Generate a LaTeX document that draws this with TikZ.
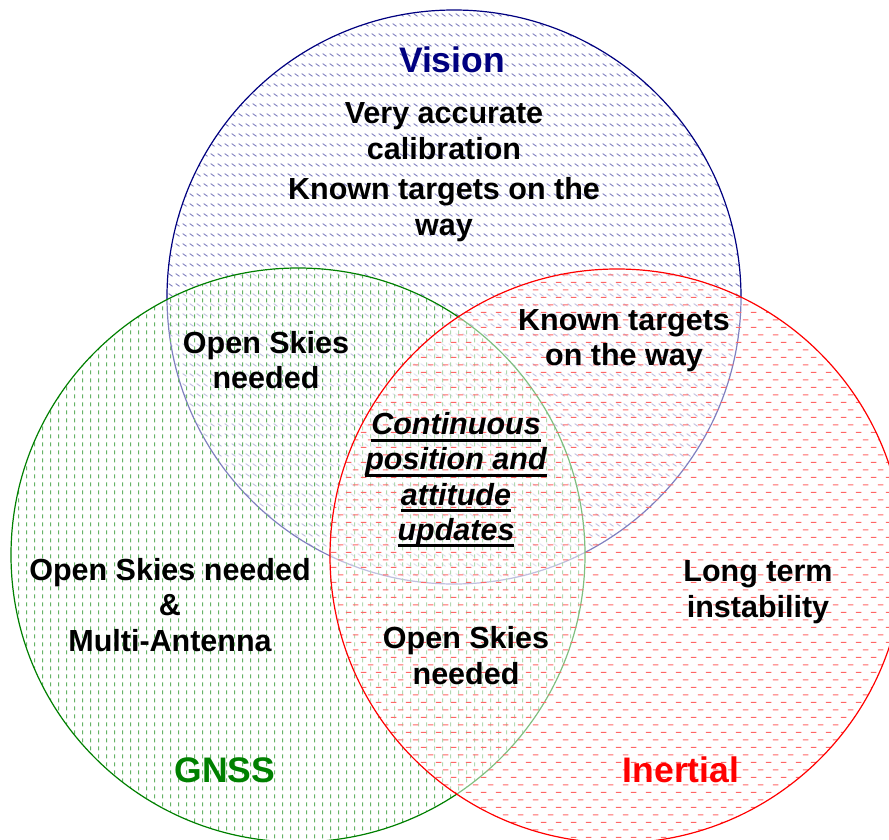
\documentclass[tikz,border=0pt]{standalone}
\usepackage{fontspec}
\setmainfont{Liberation Sans}
\usetikzlibrary{patterns}
\definecolor{visnavy}{RGB}{0,0,128}
\definecolor{gnssgreen}{RGB}{0,128,0}
\definecolor{inred}{RGB}{255,0,0}
\pgfdeclarepatternformonly{visionpat}{\pgfpointorigin}{\pgfpoint{7pt}{10pt}}{\pgfpoint{7pt}{10pt}}{%
  \pgfsetlinewidth{1pt}%
  \pgfpathmoveto{\pgfpoint{0.8pt}{7pt}}%
  \pgfpathlineto{\pgfpoint{5.2pt}{4pt}}%
  \pgfusepath{stroke}}
\pgfdeclarepatternformonly{gnsspat}{\pgfpointorigin}{\pgfpoint{7.7pt}{8pt}}{\pgfpoint{7.7pt}{8pt}}{%
  \pgfsetlinewidth{1.1pt}%
  \pgfpathmoveto{\pgfpoint{3.8pt}{1.8pt}}%
  \pgfpathlineto{\pgfpoint{3.8pt}{6.2pt}}%
  \pgfusepath{stroke}}
\pgfdeclarepatternformonly{inpat}{\pgfpointorigin}{\pgfpoint{15pt}{15.4pt}}{\pgfpoint{15pt}{15.4pt}}{%
  \pgfsetlinewidth{1.1pt}%
  \pgfpathmoveto{\pgfpoint{0.8pt}{3.85pt}}%
  \pgfpathlineto{\pgfpoint{6.7pt}{3.85pt}}%
  \pgfpathmoveto{\pgfpoint{8.3pt}{11.55pt}}%
  \pgfpathlineto{\pgfpoint{14.2pt}{11.55pt}}%
  \pgfusepath{stroke}}
\newcommand\myul[1]{\setbox0\hbox{#1}\rlap{\rule[-7pt]{\wd0}{3pt}}\box0}
\begin{document}
\begin{tikzpicture}[x=1pt,y=-1pt,
  setcirc/.style={circle, minimum size=574pt, inner sep=0pt, line width=1.2pt,
    preaction={fill=white, fill opacity=0.5}},
  lbl/.style={font=\fontsize{30.5}{35.5}\selectfont\bfseries, align=center, inner sep=0pt, text=black},
  ttl/.style={font=\fontsize{35.5}{40}\selectfont\bfseries, inner sep=0pt}]
\useasboundingbox (0,0) rectangle (889,840);
\clip (0,0) rectangle (889,840);
\node[setcirc, draw=visnavy, pattern=visionpat, pattern color=visnavy!50] (vision) at (454,297) {};
\node[setcirc, draw=gnssgreen, pattern=gnsspat, pattern color=gnssgreen!60] (gnss) at (298,555) {};
\node[setcirc, draw=inred, pattern=inpat, pattern color=inred!60] (inertial) at (617,556) {};

\node[ttl, text=visnavy] (tvision) at (452,60) {Vision};
\node[ttl, text=gnssgreen] (tgnss) at (225,770) {GNSS};
\node[ttl, text=inred] (tinertial) at (681,770) {Inertial};

\node[lbl] (calib) at (444,131) {Very accurate\\calibration};
\node[lbl] (known1) at (444,209.5) {Known targets on the\\way};
\node[lbl] (open1) at (266,360) {Open Skies\\needed};
\node[lbl] (known2) at (624,340.5) {Known targets\\on the way};
\node[lbl, font=\fontsize{30.5}{35.2}\selectfont\bfseries\itshape] (cont) at (456,480)
  {\myul{Continuous}\\\myul{position and}\\\myul{attitude}\\\myul{updates}};
\node[lbl] (multi) at (170,605) {Open Skies needed\\\&\\Multi-Antenna};
\node[lbl] (longterm) at (758,592) {Long term\\instability};
\node[lbl] (open2) at (466,655.5) {Open Skies\\needed};
\end{tikzpicture}
\end{document}
